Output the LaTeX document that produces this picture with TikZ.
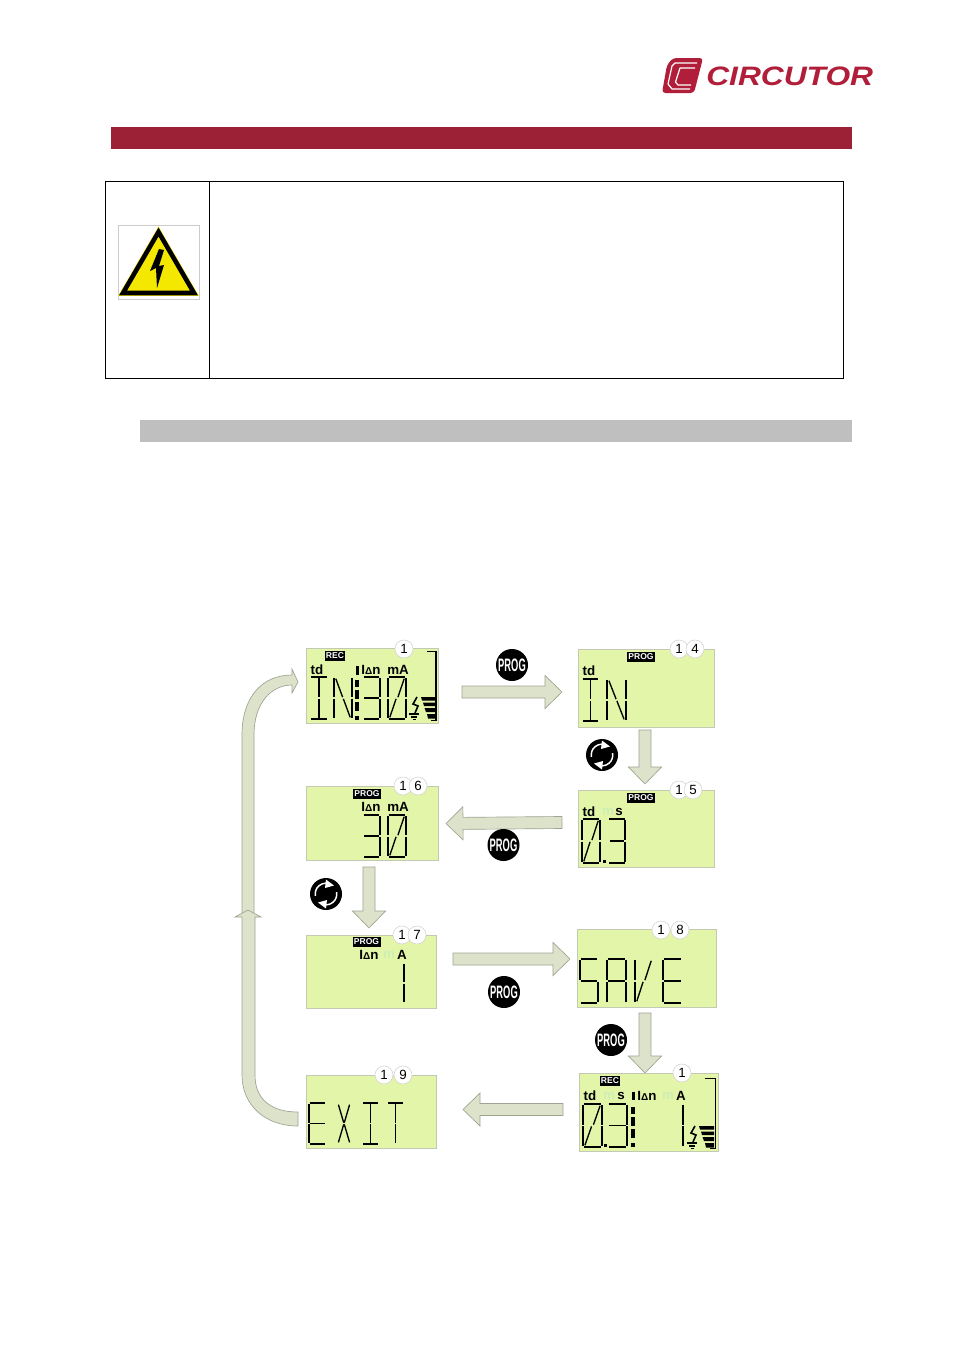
\documentclass[tikz,border=0pt]{standalone}
\usepackage{fontspec}
\setmainfont{Liberation Sans}
\usetikzlibrary{calc,arrows.meta}
\definecolor{lcdfill}{HTML}{E3F5A9}
\definecolor{lcdedge}{HTML}{C4C9B4}
\definecolor{arrfill}{HTML}{DDE2CB}
\definecolor{arredge}{HTML}{9EA492}
\definecolor{brand}{HTML}{9C2136}
\definecolor{logored}{HTML}{B01E3A}
\definecolor{faint}{HTML}{CDEFB4}
\definecolor{warn}{HTML}{F5E800}
\tikzset{
  lcd/.style={fill=lcdfill,draw=lcdedge,line width=.6pt,inner sep=0pt,anchor=north west},
  lcdseg/.style={black,line width=1pt},
  lcdtext/.style={inner sep=0pt,font=\fontsize{10}{10}\selectfont\bfseries,text=black},
  fainttext/.style={inner sep=0pt,font=\fontsize{10}{10}\selectfont\bfseries,text=faint},
  tag/.style={fill=black,text=white,inner sep=0pt,minimum height=7.4pt,font=\fontsize{6.4}{6.4}\selectfont\bfseries},
  badge/.style={circle,fill=white,draw=black!18,line width=.4pt,inner sep=0pt,minimum size=13.5pt,font=\fontsize{10}{10}\selectfont},
  blockarrow/.style={fill=arrfill,draw=arredge,line width=.5pt,line join=miter},
  progbtn/.style={circle,fill=black,inner sep=0pt,minimum size=24pt,text=white},
}
\newcommand\screen[5]{\node[lcd,minimum width={(#4-#2)*.75pt},minimum height={(#5-#3)*.75pt}] (#1) at (#2,#3) {};}
\newcommand\blockarrow[2]{%
  \coordinate (hb) at ($(#2)!12.75pt!(#1)$);
  \draw[blockarrow] ($(#1)!4.5pt!90:(#2)$) -- ($(hb)!4.5pt!90:(#2)$) -- ($(hb)!12.4pt!90:(#2)$) -- (#2)
    -- ($(hb)!12.4pt!-90:(#2)$) -- ($(hb)!4.5pt!-90:(#2)$) -- ($(#1)!4.5pt!-90:(#2)$) -- cycle;}
\newcommand\prog[3]{\node[progbtn] (#1) at (#2,#3) {\scalebox{.52}[1]{\fontsize{13.5}{13.5}\selectfont\bfseries PROG}};}
\newcommand\refreshbtn[3]{\node[progbtn] (#1) at (#2,#3) {};
  \draw[white,line width=1.1pt] ($(#1)+(-10.6,1.8)$) arc (170:270:10.8);
  \fill[white] ($(#1)+(8,-8.5)$) -- ($(#1)+(0,-14.5)$) -- ($(#1)+(-1,-6)$) -- cycle;
  \draw[white,line width=1.1pt] ($(#1)+(10.6,-1.8)$) arc (-10:90:10.8);
  \fill[white] ($(#1)+(-8,8.5)$) -- ($(#1)+(0,14.5)$) -- ($(#1)+(1,6)$) -- cycle;}
% segments in a unit cell, y downwards
\def\SGa{\draw[lcdseg] (.03,0)--(.97,0);}
\def\SGb{\draw[lcdseg] (1,.02)--(1,.485);}
\def\SGc{\draw[lcdseg] (1,.515)--(1,.98);}
\def\SGd{\draw[lcdseg] (.03,1)--(.97,1);}
\def\SGe{\draw[lcdseg] (0,.515)--(0,.98);}
\def\SGf{\draw[lcdseg] (0,.02)--(0,.485);}
\def\SGg{\draw[lcdseg] (.06,.5)--(.94,.5);}
\def\SGv{\draw[lcdseg] (.5,.03)--(.5,.485);}
\def\SGw{\draw[lcdseg] (.5,.515)--(.5,.97);}
\def\SGs{\draw[lcdseg] (.9,.04)--(.55,.48);}
\def\SGt{\draw[lcdseg] (.45,.52)--(.1,.96);}
\def\SGn{\draw[lcdseg] (.1,.04)--(.48,.48);}
\def\SGo{\draw[lcdseg] (.52,.52)--(.9,.96);}
\def\SGp{\draw[lcdseg] (.9,.04)--(.52,.48);}
\def\SGq{\draw[lcdseg] (.48,.52)--(.1,.96);}
\newcommand\chr[5]{\begin{scope}[shift={(#1,#2)},xscale=#3-#1,yscale=#4-#2]
  \foreach \sgname in {#5} {\csname SG\sgname\endcsname}
\end{scope}}
\newcommand\colonbar[2]{% x, top y of digit
  \fill[black] (#1-1.6,#2+3) rectangle (#1+1.6,#2+10);
  \fill[black] (#1-1.6,#2+13) rectangle (#1+1.6,#2+22);
  \fill[black] (#1-1.6,#2+25) rectangle (#1+1.6,#2+34);
  \fill[black] (#1-1.6,#2+39) rectangle (#1+1.6,#2+43);}
\newcommand\earthbars[2]{\begin{scope}[shift={(#1,#2)}]
  \draw[black,line width=1.2pt] (9,-1)--(5,6)--(10,8)--(7,15);
  \draw[black,line width=.9pt] (1,16)--(11,16) (3,19)--(9,19) (4.5,21.5)--(7.5,21.5);
  \fill[black] (13,-1)--(28,-1)--(28,2.5)--(14,2.5)--cycle;
  \fill[black] (15,4.5)--(28,4.5)--(28,8)--(16,8)--cycle;
  \fill[black] (16.5,10)--(28,10)--(28,14)--(18,14)--cycle;
  \fill[black] (19,16)--(28,16)--(28,20.5)--(20,20.5)--cycle;
\end{scope}}
\begin{document}
\begin{tikzpicture}[x=.75pt,y=-.75pt]
\useasboundingbox (0,0) rectangle (955,1350);
\fill[white] (0,0) rectangle (955,1350);
% logo
\node[inner sep=0pt,anchor=west,text=logored] (logotext) at (706,76) {\scalebox{1.19}[1]{\fontsize{20}{20}\selectfont\bfseries\itshape CIRCUTOR}};
\fill[logored,rounded corners=2.5pt] (673,58) -- (703,58) -- (694,93) -- (662,93) -- (667,65) -- cycle;
\draw[white,line width=.9pt,line join=round] (697,63) -- (675,63) -- (672,66) -- (668,84) -- (672,89) -- (690,89);
\draw[white,line width=.9pt,line join=round] (695,68) -- (680,68) -- (675.5,82) -- (678,85) -- (691,85);
% bars
\fill[brand] (111,127) rectangle (852,149);
\fill[black!25] (140,420) rectangle (852,442);
% warning table
\draw[black,line width=.6pt] (105.5,181.5) rectangle (843.5,378.5);
\draw[black,line width=.6pt] (209.5,181.5) -- (209.5,378.5);
\draw[black!20,line width=.5pt] (118,225) rectangle (199,299);
\draw[warn,fill=warn,line width=4.2pt,line join=miter] (158.5,232) -- (194,293) -- (123,293) -- cycle;
\draw[black,line width=3.4pt,line join=miter] (158.5,232) -- (194,293) -- (123,293) -- cycle;
\fill[black] (159,249) -- (150,271) -- (156,268) -- (157,288) -- (164,265) -- (159,266) -- (164,250) -- cycle;
% curved return arrow
\draw[blockarrow] (242,915) -- (242,735) .. controls (242,697) and (262,675) .. (292,675) -- (292,669) -- (298,682) -- (292,693) -- (292,685) .. controls (272,685) and (254,702) .. (254,735) -- (254,915) -- cycle;
\draw[blockarrow] (298,1112) .. controls (272,1112) and (255,1100) .. (255,1075) -- (255,917) -- (261,917) -- (248,910) -- (235,917) -- (242,917) -- (242,1075) .. controls (242,1105) and (265,1126) .. (298,1126) -- cycle;
% screens
\screen{s1}{306}{648}{438}{723}
\screen{s16}{306}{786}{438}{860}
\screen{s14}{578}{649}{714}{727}
\screen{s15}{578}{790}{714}{867}
\screen{s17}{306}{935}{436}{1008}
\screen{s18}{577}{929}{716}{1007}
\screen{s19}{306}{1075}{436}{1148}
\screen{s1b}{579}{1073}{717.5}{1151}
% badges
\node[badge] (b1a) at (404,649) {1};
\node[badge] (b16a) at (403,786) {1};
\node[badge] (b16b) at (418,786) {6};
\node[badge] (b14a) at (679,649) {1};
\node[badge] (b14b) at (695,649) {4};
\node[badge] (b15a) at (679,790) {1};
\node[badge] (b15b) at (693,790) {5};
\node[badge] (b17a) at (402,935) {1};
\node[badge] (b17b) at (417,935) {7};
\node[badge] (b18a) at (661,930) {1};
\node[badge] (b18b) at (680,930) {8};
\node[badge] (b19a) at (384,1075) {1};
\node[badge] (b19b) at (403,1075) {9};
\node[badge] (b1ba) at (682,1073) {1};
% tags
\node[tag,minimum width=15pt] (t1) at (335,656) {REC};
\node[tag,minimum width=21pt] (t16) at (367,794) {PROG};
\node[tag,minimum width=21.5pt] (t14) at (641,657) {PROG};
\node[tag,minimum width=21.5pt] (t15) at (641,798) {PROG};
\node[tag,minimum width=21pt] (t17) at (366.5,942) {PROG};
\node[tag,minimum width=15pt] (t1b) at (610,1081) {REC};
% texts s1
\node[lcdtext] (l1a) at (317,670) {td};
\node[lcdtext] (l1b) at (371,670) {I{\fontsize{7.5}{7.5}\selectfont Δ}n};
\node[lcdtext] (l1c) at (398,670) {mA};
\fill[black] (355.5,666) rectangle (358.5,675);
\chr{311}{677}{327}{719}{a,d,v,w}
\chr{334}{677}{352}{719}{f,e,b,c,n,o}
\colonbar{357}{677}
\chr{363}{677}{380}{719}{a,b,c,d,g}
\chr{388}{677}{406}{719}{a,b,c,d,e,f,s,t}
\earthbars{408}{698}
\draw[black,line width=.9pt] (427,651.5) -- (436,651.5) -- (436,720.5) -- (431,720.5);
% s16
\node[lcdtext] (l16b) at (371,807) {I{\fontsize{7.5}{7.5}\selectfont Δ}n};
\node[lcdtext] (l16c) at (398,807) {mA};
\chr{363}{815}{380}{857}{a,b,c,d,g}
\chr{388}{815}{406}{857}{a,b,c,d,e,f,s,t}
% s14
\node[lcdtext] (l14a) at (589,671) {td};
\chr{582}{679}{599}{721}{a,d,v,w}
\chr{607}{679}{626}{721}{f,e,b,c,n,o}
% s15
\node[lcdtext] (l15a) at (589,812) {td};
\node[fainttext] (l15m) at (608,812) {m};
\node[lcdtext] (l15s) at (619,812) {s};
\chr{582}{819}{600}{863}{a,b,c,d,e,f,s,t}
\fill[black] (602.5,859.5) rectangle (605.5,862.5);
\chr{609}{819}{625}{863}{a,b,c,d,g}
% s17
\node[lcdtext] (l17b) at (369,955) {I{\fontsize{7.5}{7.5}\selectfont Δ}n};
\node[fainttext] (l17m) at (389,955) {m};
\node[lcdtext] (l17c) at (402,955) {A};
\chr{403}{963}{404}{1003}{b,c}
% s18
\chr{580}{959}{598}{1003}{a,f,g,c,d}
\chr{607}{959}{626}{1003}{a,f,b,g,e,c}
\chr{635}{959}{653}{1003}{f,e,s,t}
\chr{663}{959}{682}{1003}{a,f,g,e,d}
% s19
\chr{309}{1103}{326}{1144}{a,f,g,e,d}
\chr{337}{1103}{351}{1144}{n,p,q,o}
\chr{363}{1103}{378}{1144}{a,d,v,w}
\chr{388}{1103}{403}{1144}{a,v,w}
% s1b
\node[lcdtext] (l1ba) at (590,1096) {td};
\node[fainttext] (l1bm) at (609,1096) {m};
\node[lcdtext] (l1bs) at (621,1096) {s};
\fill[black] (631.5,1092) rectangle (634.5,1100);
\node[lcdtext] (l1bi) at (647,1096) {I{\fontsize{7.5}{7.5}\selectfont Δ}n};
\node[fainttext] (l1bn) at (668,1096) {m};
\node[lcdtext] (l1bA) at (681,1096) {A};
\chr{583}{1104}{602}{1147}{a,b,c,d,e,f,s,t}
\fill[black] (603.5,1143.5) rectangle (606.5,1146.5);
\chr{608}{1104}{627}{1147}{a,b,c,d,g}
\colonbar{633}{1104}
\chr{682}{1104}{683}{1147}{b,c}
\earthbars{686}{1127}
\draw[black,line width=.9pt] (705,1078.5) -- (715.5,1078.5) -- (715.5,1148.5) -- (710,1148.5);
% block arrows
\coordinate (a1s) at (462,692); \coordinate (a1e) at (562,692);
\coordinate (a2s) at (645,730); \coordinate (a2e) at (645,784);
\coordinate (a3s) at (562,822.5); \coordinate (a3e) at (446,823.5);
\coordinate (a4s) at (369,867); \coordinate (a4e) at (369,928);
\coordinate (a5s) at (453,959); \coordinate (a5e) at (570,959);
\coordinate (a6s) at (645,1013); \coordinate (a6e) at (645,1073);
\coordinate (a7s) at (563,1109.5); \coordinate (a7e) at (463,1109.5);
\blockarrow{a1s}{a1e}
\blockarrow{a2s}{a2e}
\blockarrow{a3s}{a3e}
\blockarrow{a4s}{a4e}
\blockarrow{a5s}{a5e}
\blockarrow{a6s}{a6e}
\blockarrow{a7s}{a7e}
% buttons
\prog{p1}{512}{665}
\prog{p2}{503.5}{845}
\prog{p3}{504}{992}
\prog{p4}{611}{1040}
\refreshbtn{r1}{602}{755}
\refreshbtn{r2}{326}{894}
\end{tikzpicture}
\end{document}
